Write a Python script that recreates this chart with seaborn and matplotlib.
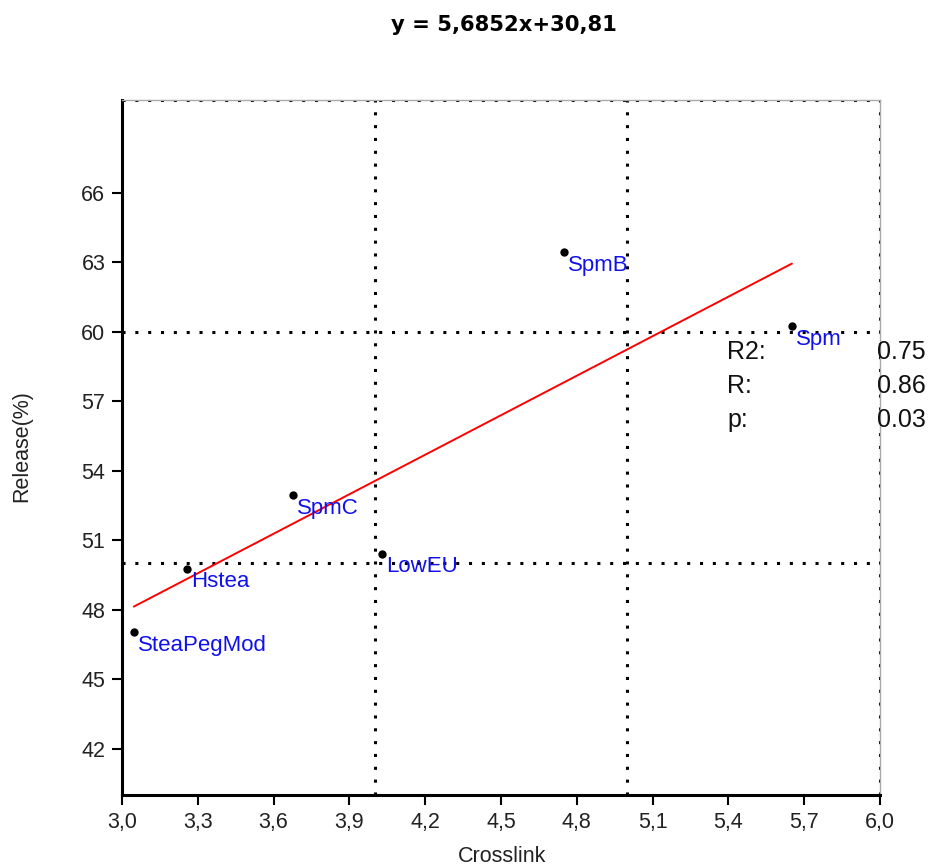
import matplotlib
matplotlib.use("Agg")
import matplotlib.pyplot as plt
import seaborn as sns
import pandas as pd

# Formulations: crosslink degree vs. release
names = ["SteaPegMod", "Hstea", "SpmC", "LowEU", "SpmB", "Spm"]
crosslink = [3.047, 3.257, 3.677, 4.029, 4.749, 5.651]
release = [47.03, 49.77, 52.94, 50.42, 63.44, 60.23]

# Linear fit and statistics
slope = 5.6852
intercept = 30.81
stat_names = ["R2:", "R:", "p:"]
stat_values = ["0.75", "0.86", "0.03"]

x_ticks = [3.0, 3.3, 3.6, 3.9, 4.2, 4.5, 4.8, 5.1, 5.4, 5.7, 6.0]
y_ticks = [42, 45, 48, 51, 54, 57, 60, 63, 66]

sns.set_theme(style="white")
plt.rcParams["font.family"] = ["Liberation Sans", "DejaVu Sans"]

df = pd.DataFrame({"Crosslink": crosslink, "Release": release, "name": names})
x_fit = [min(crosslink), max(crosslink)]
fit = pd.DataFrame({"x": x_fit, "y": [slope * v + intercept for v in x_fit]})

fig = plt.figure(figsize=(9.29, 8.68), dpi=100)
ax = fig.add_axes([0.1313, 0.0841, 0.816, 0.8007])

# dotted reference grid
for xv in [4.0, 5.0, 6.0]:
    ax.axvline(xv, color="black", linestyle=(0, (1, 3.2)), linewidth=2.2, zorder=1)
for yv in [50, 60, 70]:
    ax.axhline(yv, color="black", linestyle=(0, (1, 3.2)), linewidth=2.2, zorder=1)

sns.lineplot(data=fit, x="x", y="y", color="red", linewidth=1.4, ax=ax, zorder=3)
sns.scatterplot(data=df, x="Crosslink", y="Release", color="black", s=36,
                edgecolor="black", linewidth=0, ax=ax, zorder=4)

for n, xv, yv in zip(names, crosslink, release):
    ax.annotate(n, (xv, yv), xytext=(3, -2), textcoords="offset points",
                ha="left", va="top", color="#1010ee", fontsize=16, zorder=5)

ax.set_xlim(3.0, 6.0)
ax.set_ylim(40, 70)
ax.set_xticks(x_ticks)
ax.set_xticklabels([f"{v:.1f}".replace(".", ",") for v in x_ticks])
ax.set_yticks(y_ticks)
ax.set_yticklabels([str(v) for v in y_ticks])
ax.tick_params(axis="both", which="major", labelsize=15.5, length=7, width=1.5,
               color="black", labelcolor="#222222", direction="out",
               bottom=True, left=True, pad=5)

for side in ["left", "bottom"]:
    ax.spines[side].set_color("black")
    ax.spines[side].set_linewidth(2.2)
for side in ["top", "right"]:
    ax.spines[side].set_color("#aaaaaa")
    ax.spines[side].set_linewidth(1.0)

ax.set_xlabel("")
ax.set_ylabel("")
fig.text(502 / 929, 1 - 857 / 868, "Crosslink", fontsize=15.5, color="#222222",
         ha="center", va="center")
fig.text(22 / 929, 1 - 446 / 868, "Release(%)", fontsize=15.5, color="#222222",
         ha="center", va="center", rotation=90)

# statistics block on the right
for i, (sn, sv) in enumerate(zip(stat_names, stat_values)):
    yy = 352 + 34 * i
    fig.text(727 / 929, 1 - yy / 868, sn, fontsize=18, ha="left",
             va="center", color="#111111")
    fig.text(926 / 929, 1 - yy / 868, sv, fontsize=18, ha="right",
             va="center", color="#111111")

fig.text(503.5 / 929, 1 - 25 / 868, f"y = {slope:.4f}x+{intercept:.2f}".replace(".", ","),
         ha="center", va="center", fontsize=15.2, fontweight="bold",
         color="black", family=["DejaVu Sans"])

fig.savefig("out.png", dpi=100, facecolor="white")
